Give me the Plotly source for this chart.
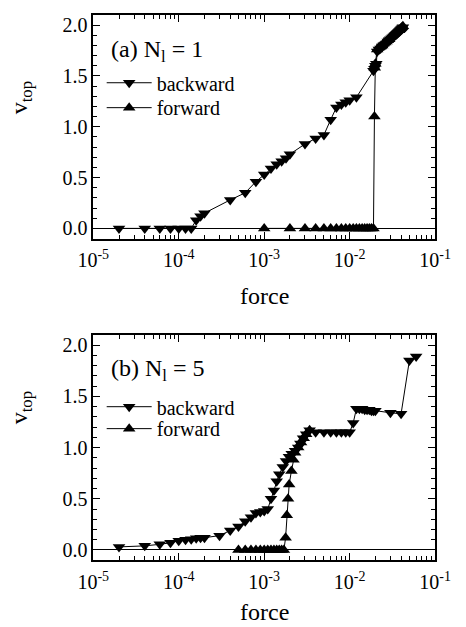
import plotly.graph_objects as go

# ---------------- data: panel (a) N_l = 1 ----------------
a_bwd_force = [2e-5, 4e-5, 6e-5, 8e-5, 1e-4, 1.2e-4, 1.4e-4, 1.6e-4, 1.8e-4, 2e-4,
               4e-4, 6e-4, 8e-4, 1e-3, 1.2e-3, 1.4e-3, 1.6e-3, 1.8e-3, 2e-3,
               3e-3, 4e-3, 5e-3, 6e-3, 7e-3, 8e-3, 9e-3, 1e-2, 1.2e-2,
               1.9e-2, 1.95e-2, 2.0e-2, 2.05e-2,
               0.021, 0.022, 0.023, 0.024, 0.025, 0.026, 0.027, 0.028, 0.029, 0.030, 0.031,
               0.032, 0.033, 0.034, 0.035, 0.036, 0.037, 0.038, 0.039, 0.040, 0.041, 0.042]
a_bwd_v = [0.0, 0.0, 0.0, 0.0, 0.0, 0.0, 0.0, 0.08, 0.12, 0.15,
           0.28, 0.35, 0.46, 0.53, 0.59, 0.63, 0.66, 0.69, 0.73,
           0.83, 0.885, 0.92, 1.07, 1.19, 1.22, 1.24, 1.26, 1.29,
           1.55, 1.57, 1.60, 1.62,
           1.74, 1.76, 1.77, 1.79, 1.80, 1.81, 1.82, 1.84, 1.85, 1.86, 1.87,
           1.88, 1.89, 1.90, 1.91, 1.92, 1.93, 1.94, 1.95, 1.96, 1.97, 1.98]

a_fwd_force = [1e-3, 2e-3, 3e-3, 4e-3, 5e-3, 6e-3, 7e-3, 8e-3, 9e-3, 1e-2,
               1.1e-2, 1.2e-2, 1.3e-2, 1.4e-2, 1.5e-2, 1.6e-2, 1.7e-2, 1.8e-2, 1.9e-2,
               1.95e-2, 1.97e-2, 2.0e-2, 2.1e-2,
               0.022, 0.023, 0.024, 0.025, 0.026, 0.027, 0.028, 0.029, 0.030, 0.031,
               0.032, 0.033, 0.034, 0.035, 0.036, 0.037, 0.038, 0.039, 0.040, 0.041, 0.042]
a_fwd_v = [0.0, 0.0, 0.0, 0.0, 0.0, 0.0, 0.0, 0.0, 0.0, 0.0,
           0.0, 0.0, 0.0, 0.0, 0.0, 0.0, 0.0, 0.0, 0.0,
           1.10, 1.58, 1.62, 1.76,
           1.78, 1.79, 1.80, 1.82, 1.83, 1.84, 1.85, 1.86, 1.88, 1.89,
           1.90, 1.91, 1.92, 1.93, 1.94, 1.95, 1.95, 1.96, 1.97, 1.98, 1.99]

# ---------------- data: panel (b) N_l = 5 ----------------
b_bwd_force = [2e-5, 4e-5, 6e-5, 8e-5, 1e-4, 1.2e-4, 1.4e-4, 1.6e-4, 1.8e-4, 2e-4,
               3e-4, 4e-4, 5e-4, 6e-4, 7e-4, 8e-4, 9e-4, 1e-3, 1.1e-3,
               1.2e-3, 1.3e-3, 1.4e-3, 1.5e-3, 1.65e-3, 1.8e-3, 1.95e-3, 2.1e-3,
               2.3e-3, 2.5e-3, 2.65e-3, 2.85e-3, 3.1e-3, 3.4e-3,
               4e-3, 5e-3, 6e-3, 7e-3, 8e-3, 9e-3, 1e-2, 1.1e-2,
               1.2e-2, 1.3e-2, 1.4e-2, 1.5e-2, 1.6e-2, 1.7e-2, 1.8e-2, 1.9e-2, 2.0e-2,
               3.0e-2, 4.0e-2, 5.0e-2, 6.0e-2]
b_bwd_v = [0.03, 0.04, 0.055, 0.07, 0.09, 0.10, 0.105, 0.115, 0.12, 0.12,
           0.14, 0.19, 0.23, 0.28, 0.32, 0.36, 0.37, 0.38, 0.40,
           0.50, 0.58, 0.67, 0.74, 0.81, 0.87, 0.91, 0.94,
           0.97, 1.00, 1.04, 1.09, 1.13, 1.17,
           1.15, 1.15, 1.15, 1.15, 1.15, 1.15, 1.15, 1.24,
           1.38, 1.38, 1.38, 1.37, 1.37, 1.37, 1.36, 1.36, 1.36,
           1.34, 1.33, 1.85, 1.89]

b_fwd_force = [5e-4, 6e-4, 7e-4, 8e-4, 9e-4, 1e-3, 1.1e-3, 1.2e-3, 1.3e-3, 1.4e-3,
               1.5e-3, 1.6e-3, 1.7e-3, 1.78e-3, 1.84e-3, 1.9e-3, 1.96e-3, 2.08e-3,
               2.2e-3, 2.3e-3, 2.5e-3, 2.7e-3, 2.9e-3, 3.1e-3, 3.4e-3]
b_fwd_v = [0.0, 0.0, 0.0, 0.0, 0.0, 0.0, 0.0, 0.0, 0.0, 0.0,
           0.0, 0.0, 0.0, 0.12, 0.34, 0.50, 0.64, 0.77,
           0.88, 0.95, 1.00, 1.05, 1.09, 1.13, 1.17]

panel_labels = ["(a) N<sub>l</sub> = 1", "(b) N<sub>l</sub> = 5"]
series_names = ["backward", "forward"]
x_tick_vals = [1e-5, 1e-4, 1e-3, 1e-2, 1e-1]
x_tick_text = ["10<sup>-5</sup>", "10<sup>-4</sup>", "10<sup>-3</sup>", "10<sup>-2</sup>", "10<sup>-1</sup>"]
y_tick_vals = [0.0, 0.5, 1.0, 1.5, 2.0]
y_tick_text = ["0.0", "0.5", "1.0", "1.5", "2.0"]

FONT = "Times New Roman, Liberation Serif, serif"
W, H = 466, 627

fig = go.Figure()

def add_panel(fb, vb, ff, vf, xa, ya, legb, legf):
    fig.add_trace(go.Scatter(x=fb, y=vb, mode="lines+markers", name=series_names[0],
                             xaxis=xa, yaxis=ya, legend=legb,
                             line=dict(color="black", width=1),
                             marker=dict(symbol="triangle-down", size=11, color="black")))
    fig.add_trace(go.Scatter(x=ff, y=vf, mode="lines+markers", name=series_names[1],
                             xaxis=xa, yaxis=ya, legend=legf,
                             line=dict(color="black", width=1),
                             marker=dict(symbol="triangle-up", size=11, color="black")))

add_panel(a_bwd_force, a_bwd_v, a_fwd_force, a_fwd_v, "x", "y", "legend", "legend2")
add_panel(b_bwd_force, b_bwd_v, b_fwd_force, b_fwd_v, "x2", "y2", "legend3", "legend4")

minor_x = [m * 10 ** e for e in range(-5, -1) for m in range(2, 10)]

def xaxis(anchor):
    return dict(type="log", range=[-5, -1], domain=[83 / W, 450 / W], anchor=anchor,
                tickmode="array", tickvals=x_tick_vals, ticktext=x_tick_text,
                ticks="inside", ticklen=7, tickwidth=1, tickcolor="black",
                ticklabelstandoff=3,
                minor=dict(tickmode="array", tickvals=minor_x, ticks="inside",
                           ticklen=4, tickwidth=1, tickcolor="black"),
                showline=True, linecolor="black", linewidth=1.5, mirror="allticks",
                showgrid=False, zeroline=False,
                tickfont=dict(family=FONT, size=20, color="black"))

def yaxis(anchor, top, bottom):
    return dict(range=[-0.1, 2.1], domain=[1 - bottom / H, 1 - top / H], anchor=anchor,
                tickmode="array", tickvals=y_tick_vals, ticktext=y_tick_text,
                ticks="inside", ticklen=7, tickwidth=1, tickcolor="black",
                minor=dict(dtick=0.1, ticks="inside", ticklen=4, tickwidth=1,
                           tickcolor="black"),
                showline=True, linecolor="black", linewidth=1.5, mirror="allticks",
                showgrid=False, zeroline=True, zerolinecolor="black", zerolinewidth=1.2,
                tickfont=dict(family=FONT, size=20, color="black"))

def legend(yc):
    return dict(x=92 / W, y=1 - yc / H, xanchor="left", yanchor="middle",
                bgcolor="rgba(0,0,0,0)", borderwidth=0, itemwidth=45,
                font=dict(family=FONT, size=20, color="black"), tracegroupgap=0)

annotations = []
for lab, yc in zip(panel_labels, [50, 370]):
    annotations.append(dict(text=lab, x=100 / W, y=1 - yc / H, xref="paper", yref="paper",
                            xanchor="left", yanchor="middle", showarrow=False,
                            font=dict(family=FONT, size=24, color="black")))
for yc in [296, 613]:
    annotations.append(dict(text="force", x=266.5 / W, y=1 - yc / H, xref="paper", yref="paper",
                            xanchor="center", yanchor="middle", showarrow=False,
                            font=dict(family=FONT, size=24, color="black")))
for yc in [97, 408]:
    annotations.append(dict(text="v<sub>top</sub>", x=5 / W, y=1 - yc / H, xref="paper",
                            yref="paper", xanchor="center", yanchor="middle", textangle=-90,
                            showarrow=False, font=dict(family=FONT, size=24, color="black")))

fig.update_layout(
    width=W, height=H, margin=dict(l=0, r=0, t=0, b=0),
    paper_bgcolor="white", plot_bgcolor="white",
    showlegend=True,
    xaxis=xaxis("y"), yaxis=yaxis("x", 14, 238.3),
    xaxis2=xaxis("y2"), yaxis2=yaxis("x2", 335, 561),
    legend=legend(82), legend2=legend(107),
    legend3=legend(407), legend4=legend(429),
    annotations=annotations,
)

fig.write_html("out.html")
